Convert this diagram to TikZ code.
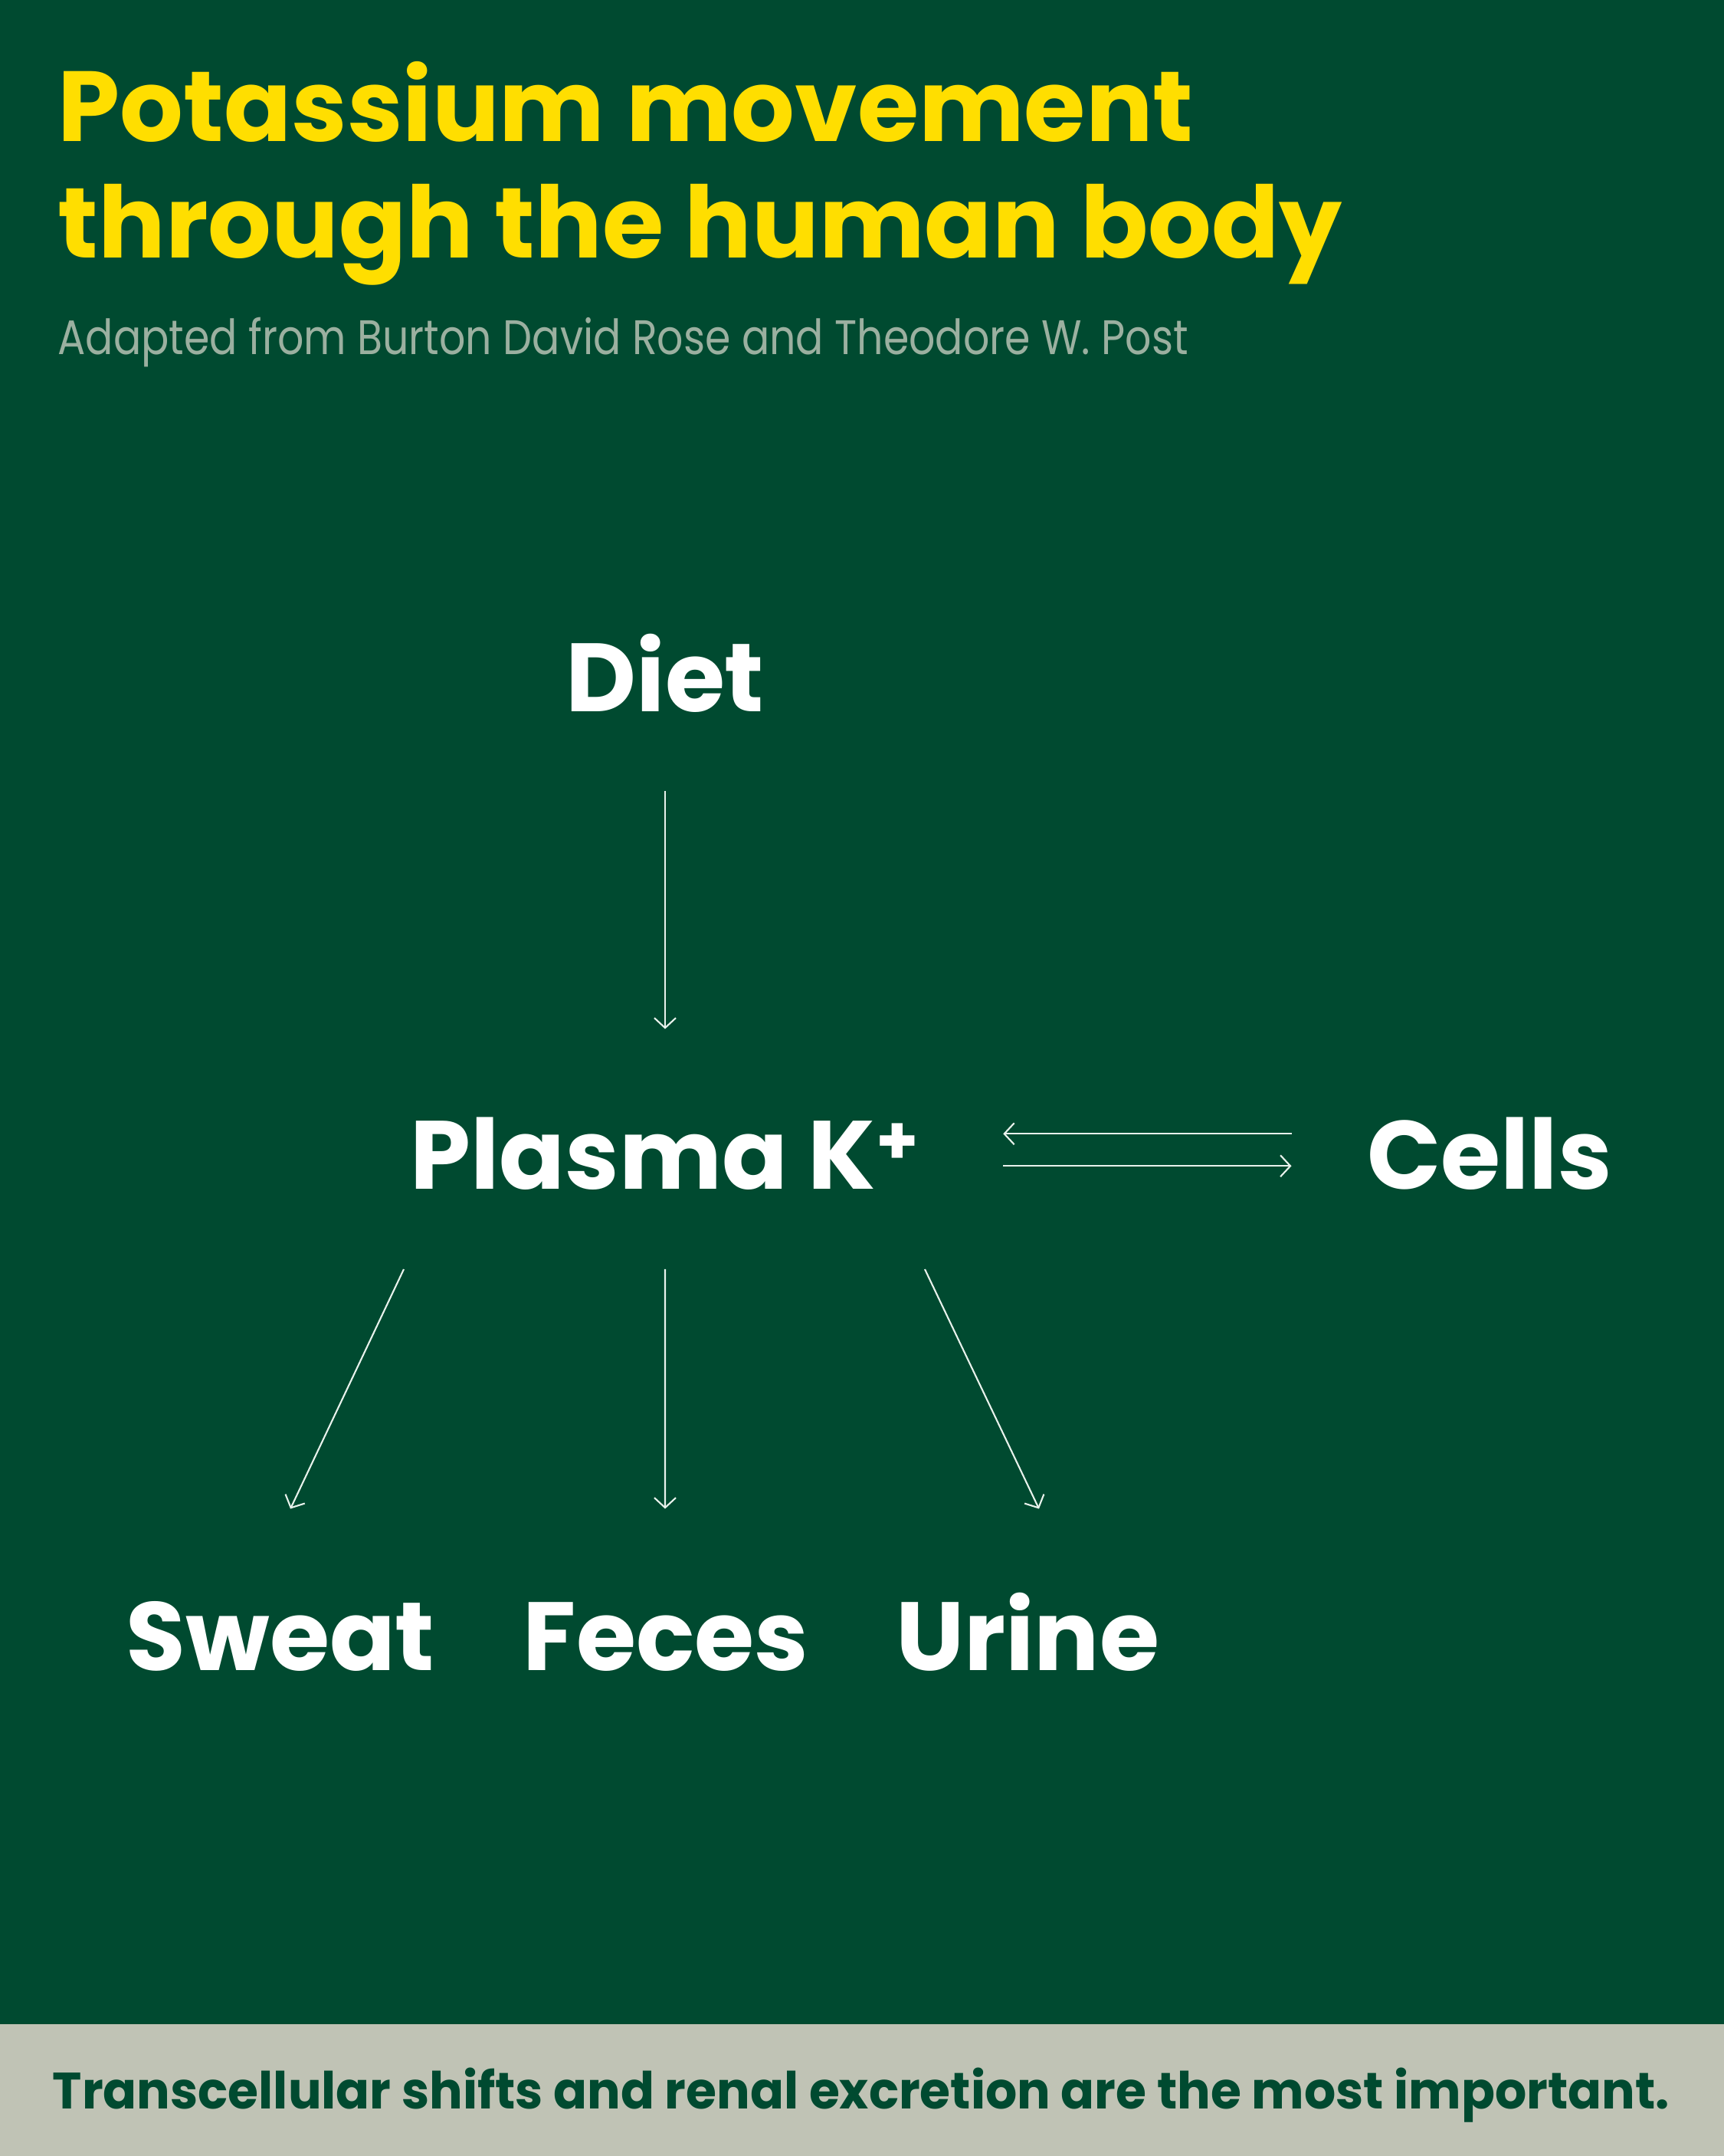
\documentclass[tikz,border=0pt]{standalone}
\usepackage{fontspec}
\setmainfont{Poppins}
\usetikzlibrary{arrows.meta,positioning,calc}
\definecolor{kgreen}{RGB}{0,74,48}
\definecolor{kyellow}{RGB}{255,222,0}
\definecolor{kgrey}{RGB}{155,176,160}
\definecolor{kband}{RGB}{192,195,181}
\definecolor{kline}{RGB}{232,242,236}

\begin{document}
\begin{tikzpicture}[>={Straight Barb[length=1.3mm,width=2.8mm]}]
\tikzstyle{ttl}=[anchor=base west,inner sep=0,text=kyellow,font=\fontsize{37}{43}\selectfont\bfseries]
\tikzstyle{nd}=[anchor=south,inner sep=0,text height=0.92cm,text depth=0cm,text=white,font=\fontsize{36}{40}\selectfont\bfseries]
\tikzstyle{ar}=[->,draw=kline,line width=0.6pt]
\fill[kgreen] (0,0) rectangle (22.5,28.13);
\fill[kband] (0,0) rectangle (22.5,1.72);
% heading
\node[ttl] (title1) at (0.75,26.28) {Potassium movement};
\node[ttl] (title2) at (0.75,24.76) {through the human body};
\node[anchor=base west,inner sep=0,text=kgrey,font=\fontsize{18}{22}\selectfont] (source) at (0.75,23.50) {\scalebox{0.85}[1]{Adapted from Burton David Rose and Theodore W. Post}};
% flow
\node[nd] (diet) at (8.68,18.84) {Diet};
\node[nd] (plasma) at (8.68,12.61) {Plasma K\textsuperscript{+}};
\node[nd] (cells) at (19.44,12.61) {Cells};
\node[nd] (sweat) at (3.66,6.33) {Sweat};
\node[nd] (feces) at (8.69,6.33) {Feces};
\node[nd] (urine) at (13.41,6.33) {Urine};
\draw[ar,shorten <=0.98cm,shorten >=1.08cm] ([yshift=0.26cm]cells.west) -- ([yshift=0.26cm]plasma.east);
\draw[ar,shorten <=1.03cm,shorten >=1.16cm] (diet.south) -- (plasma.north);
\draw[ar,shorten <=1.08cm,shorten >=0.98cm] ([yshift=-0.16cm]plasma.east) -- ([yshift=-0.16cm]cells.west);
\draw[ar] ($(plasma.south)+(-3.41,-1.04)$) -- ($(sweat.north)+(0.13,1.18)$);
\draw[ar] ($(plasma.south)+(0,-1.04)$) -- ($(feces.north)+(-0.01,1.18)$);
\draw[ar] ($(plasma.south)+(3.39,-1.04)$) -- ($(urine.north)+(0.15,1.18)$);
% footer
\node[anchor=base,inner sep=0,text=kgreen,font=\fontsize{19}{22}\selectfont\bfseries] (note) at (11.24,0.61) {\scalebox{0.97}[1]{Transcellular shifts and renal excretion are the most important.}};
\end{tikzpicture}
\end{document}
